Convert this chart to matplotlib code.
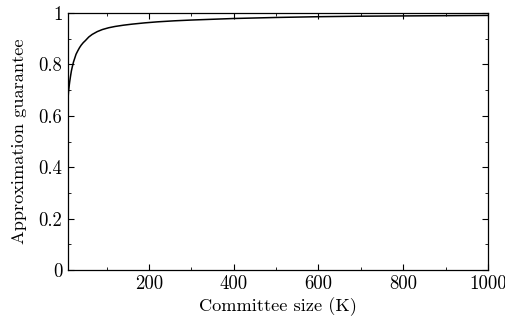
import matplotlib
matplotlib.use("Agg")
import matplotlib.pyplot as plt
from matplotlib.ticker import MultipleLocator, FuncFormatter

plt.rcParams['font.family'] = 'serif'
plt.rcParams['font.serif'] = ['cmr10']
plt.rcParams['mathtext.fontset'] = 'cm'
plt.rcParams['axes.formatter.use_mathtext'] = True

# values
committee_size = [9, 10, 11, 12, 13, 15, 17, 19, 22, 25, 28, 32, 36, 40, 45, 50, 58, 66,
                  78, 90, 105, 120, 140, 160, 190, 220, 260, 300, 350, 400, 500, 600,
                  700, 800, 900, 1000]
guarantee = [0.665, 0.69, 0.705, 0.72, 0.733, 0.755, 0.775, 0.79, 0.81, 0.825, 0.84, 0.853,
             0.865, 0.875, 0.885, 0.893, 0.907, 0.917, 0.928, 0.936, 0.943, 0.948, 0.953,
             0.957, 0.962, 0.966, 0.970, 0.973, 0.976, 0.979, 0.983, 0.986, 0.988, 0.989,
             0.990, 0.991]

fig = plt.figure(figsize=(5.06, 3.26), dpi=100)
ax = fig.add_axes([0.1344, 0.1718, 0.83, 0.788])

ax.plot(committee_size, guarantee, color='black', linewidth=1.1)

ax.set_xlim(9, 1000)
ax.set_ylim(0, 1)
ax.xaxis.set_major_locator(MultipleLocator(200))
ax.xaxis.set_minor_locator(MultipleLocator(100))
ax.yaxis.set_major_locator(MultipleLocator(0.2))
ax.yaxis.set_minor_locator(MultipleLocator(0.1))
ax.yaxis.set_major_formatter(FuncFormatter(lambda v, p: '%g' % round(v, 2)))
ax.xaxis.set_major_formatter(FuncFormatter(lambda v, p: '%d' % v))

ax.tick_params(which='both', direction='in', top=True, right=True, labelsize=13.5)
ax.tick_params(which='major', length=4, width=0.8, pad=4)
ax.tick_params(which='minor', length=2.5, width=0.6)
for s in ax.spines.values():
    s.set_linewidth(0.9)

ax.set_xlabel('Committee size (K)', fontsize=13.2, labelpad=3)
ax.set_ylabel('Approximation guarantee', fontsize=13.2, labelpad=8)

fig.savefig('out.png', dpi=100)
